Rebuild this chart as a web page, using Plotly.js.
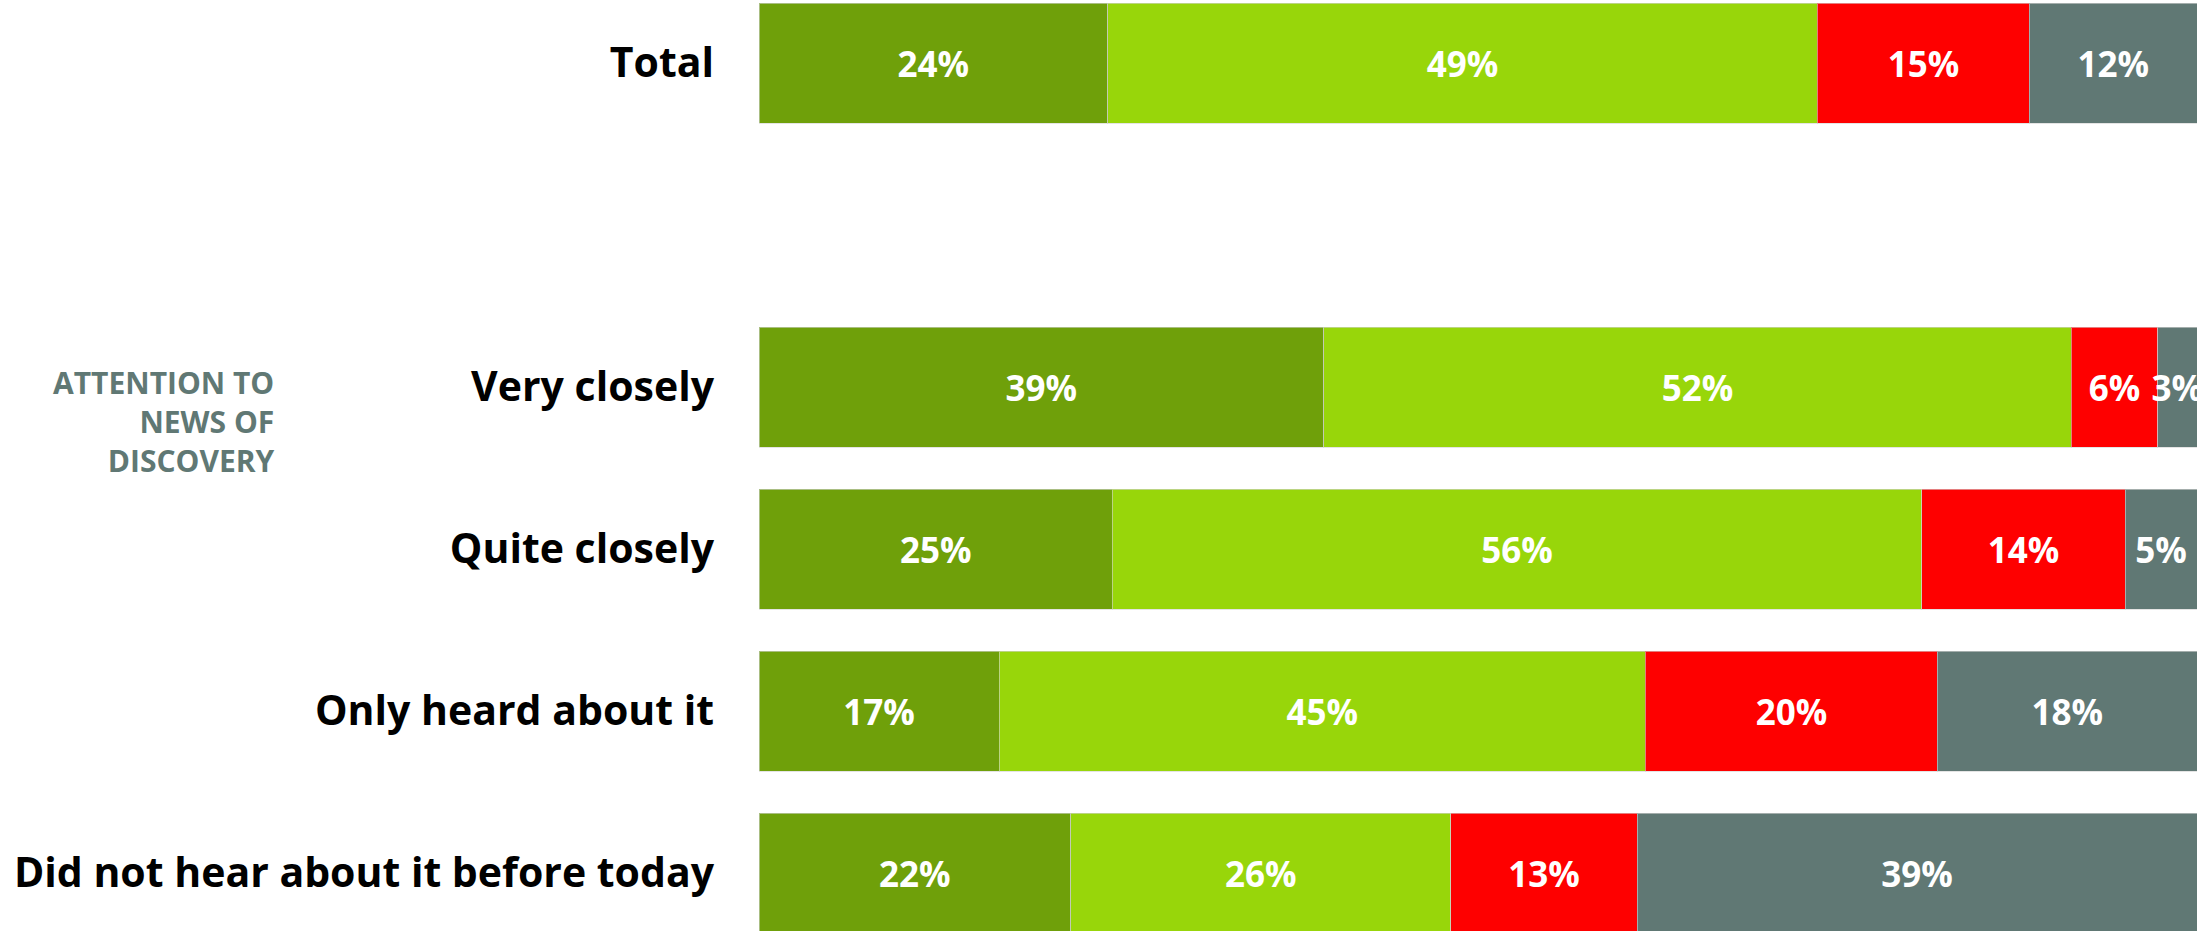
<!DOCTYPE html>
<html>
<head>
<meta charset="utf-8">
<script src="https://cdn.plot.ly/plotly-3.0.1.min.js"></script>
<style>html,body{margin:0;padding:0;background:#fff;}#chart{width:2208px;height:931px;}</style>
</head>
<body>
<div id="chart"></div>
<script>
// Categories (row labels) and their slot positions (slot 1 left empty as a spacer)
const categories = ["Total", "Very closely", "Quite closely", "Only heard about it", "Did not hear about it before today"];
const rowPositions = [0, 2, 3, 4, 5];
const groupLabel = "ATTENTION TO<br>NEWS OF<br>DISCOVERY";

// Series values (percent; labels show rounded values)
const seriesNames = ["Segment 1", "Segment 2", "Segment 3", "Segment 4"];
const seg1 = [24.25, 39.26, 24.58, 16.69, 21.67];
const seg2 = [49.35, 52.0, 56.27, 44.95, 26.45];
const seg3 = [14.75, 6.01, 14.16, 20.31, 12.94];
const seg4 = [11.65, 2.73, 4.99, 18.05, 38.94];
const seriesValues = [seg1, seg2, seg3, seg4];
const seriesColors = ["#6fa00a", "#98d60a", "#fe0000", "#607874"];

const FONT = "'Open Sans', Lato, sans-serif";

const traces = seriesValues.map((vals, i) => ({
  type: "bar",
  orientation: "h",
  name: seriesNames[i],
  x: vals,
  y: rowPositions,
  width: 0.7407,
  marker: { color: seriesColors[i], line: { color: "rgba(210,210,210,0.6)", width: 1 } },
  texttemplate: "%{x:.0f}%",
  textposition: "inside",
  insidetextanchor: "middle",
  textangle: 0,
  constraintext: "none",
  textfont: { family: FONT, size: 35, color: "#ffffff", weight: 700 },
  hoverinfo: "x+y+name"
}));

const layout = {
  width: 2208,
  height: 931,
  barmode: "stack",
  showlegend: false,
  paper_bgcolor: "#ffffff",
  plot_bgcolor: "#ffffff",
  margin: { l: 759, r: 11, t: 0, b: 0, pad: 0 },
  xaxis: {
    range: [0, 100],
    visible: false,
    fixedrange: true
  },
  yaxis: {
    range: [5.358, -0.389],
    tickmode: "array",
    tickvals: rowPositions,
    ticktext: categories,
    ticks: "",
    showgrid: false,
    zeroline: false,
    showline: false,
    ticklabelstandoff: 44,
    tickfont: { family: FONT, size: 41, color: "#000000", weight: 700 },
    fixedrange: true
  },
  annotations: [{
    text: groupLabel,
    xref: "paper",
    yref: "y",
    x: -0.3354,
    y: 2.21,
    xanchor: "right",
    yanchor: "middle",
    align: "right",
    showarrow: false,
    font: { family: FONT, size: 30, color: "#607874", weight: 700 }
  }]
};

Plotly.newPlot("chart", traces, layout, { displayModeBar: false, staticPlot: true });
</script>
</body>
</html>
